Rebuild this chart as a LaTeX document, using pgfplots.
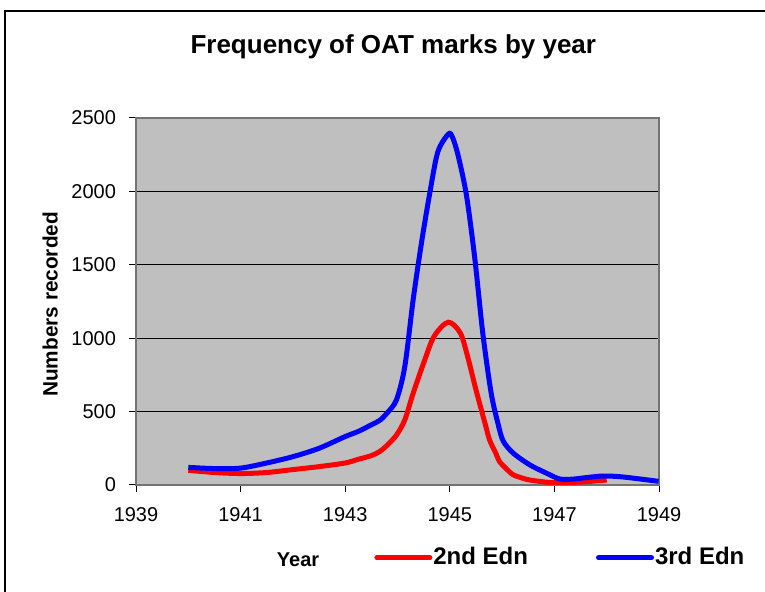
\documentclass[border=0pt]{standalone}
\usepackage{fontspec}
\setmainfont{Liberation Sans}
\usepackage{pgfplots}
\pgfplotsset{compat=1.18}
\begin{document}
\begin{tikzpicture}
\path[use as bounding box] (0,0) rectangle (382.5pt,296pt);
\draw[line width=0.6pt] (2.5pt,-2pt) -- (2.5pt,290.5pt) -- (385pt,290.5pt);
\begin{axis}[
  at={(68pt,53.5pt)}, anchor=south west,
  scale only axis, width=261.5pt, height=183.5pt,
  xmin=1939, xmax=1949, ymin=0, ymax=2500,
  xtick={1939,1941,...,1949}, ytick={0,500,...,2500},
  xtick pos=bottom, ytick pos=left,
  tick align=outside, major tick length=3.5pt,
  tick style={black, line width=0.5pt},
  axis background/.style={fill=black!25},
  axis line style={draw=black!55, line width=0.8pt},
  ymajorgrids, major grid style={black, line width=0.5pt},
  /pgf/number format/.cd, 1000 sep={}, assume math mode=true,
  /pgfplots/.cd,
  tick label style={font=\fontsize{10}{12}\selectfont},
  xticklabel style={yshift=-4pt},
  yticklabel style={xshift=-3pt},
  title={Frequency of OAT marks by year},
  title style={at={(axis description cs:0.492,1.176)}, anchor=base, yshift=-6pt, font=\bfseries\fontsize{13}{15}\selectfont},
  xlabel={Year},
  xlabel style={at={(axis description cs:0.31,-0.2234)}, anchor=base, font=\bfseries\fontsize{10}{12}\selectfont},
  ylabel={Numbers recorded},
  ylabel style={at={(axis description cs:-0.164,0.492)}, anchor=center, font=\bfseries\fontsize{10.4}{12}\selectfont},
  legend columns=2,
  legend style={at={(axis description cs:0.455,-0.198)}, anchor=west, draw=none, fill=none,
    inner sep=0pt, nodes={inner sep=0pt}, column sep=0.5pt,
    /tikz/every even column/.append style={column sep=34pt},
    font=\bfseries\fontsize{12}{14}\selectfont},
  legend image code/.code={\draw[#1, line cap=round] (1.25pt,0pt) -- (27.75pt,0pt);},
]
\addplot[red, line width=2.5pt, smooth] coordinates {
(1940.0,100) (1940.5,85) (1941.0,78) (1941.5,85) (1942.0,105) (1942.5,125)
(1943.0,150) (1943.25,175) (1943.5,200) (1943.66,228) (1943.8,270) (1943.98,340)
(1944.14,444) (1944.3,626) (1944.5,831) (1944.7,1013) (1944.97,1109) (1945.2,1036)
(1945.34,876) (1945.5,649) (1945.69,398) (1945.76,307) (1945.88,216) (1945.95,160)
(1946.07,114) (1946.2,72) (1946.32,55) (1946.53,34) (1946.97,16) (1947.5,20) (1948.0,34)
};
\addlegendentry{2nd Edn}
\addplot[blue, line width=2.5pt, smooth] coordinates {
(1940.0,120) (1940.5,112) (1941.0,115) (1941.5,150) (1942.0,193) (1942.5,250)
(1943.0,330) (1943.25,365) (1943.5,410) (1943.66,440) (1943.8,490) (1943.98,580)
(1944.14,808) (1944.3,1264) (1944.46,1653) (1944.62,1994) (1944.77,2268) (1944.97,2390)
(1945.05,2370) (1945.16,2243) (1945.32,1970) (1945.48,1537) (1945.63,1036) (1945.79,628)
(1945.92,420) (1946.02,300) (1946.21,218) (1946.53,137) (1946.84,82) (1947.1,41)
(1947.35,40) (1947.6,50) (1947.93,61) (1948.3,55) (1948.99,25)
};
\addlegendentry{3rd Edn}
\end{axis}
\end{tikzpicture}
\end{document}
